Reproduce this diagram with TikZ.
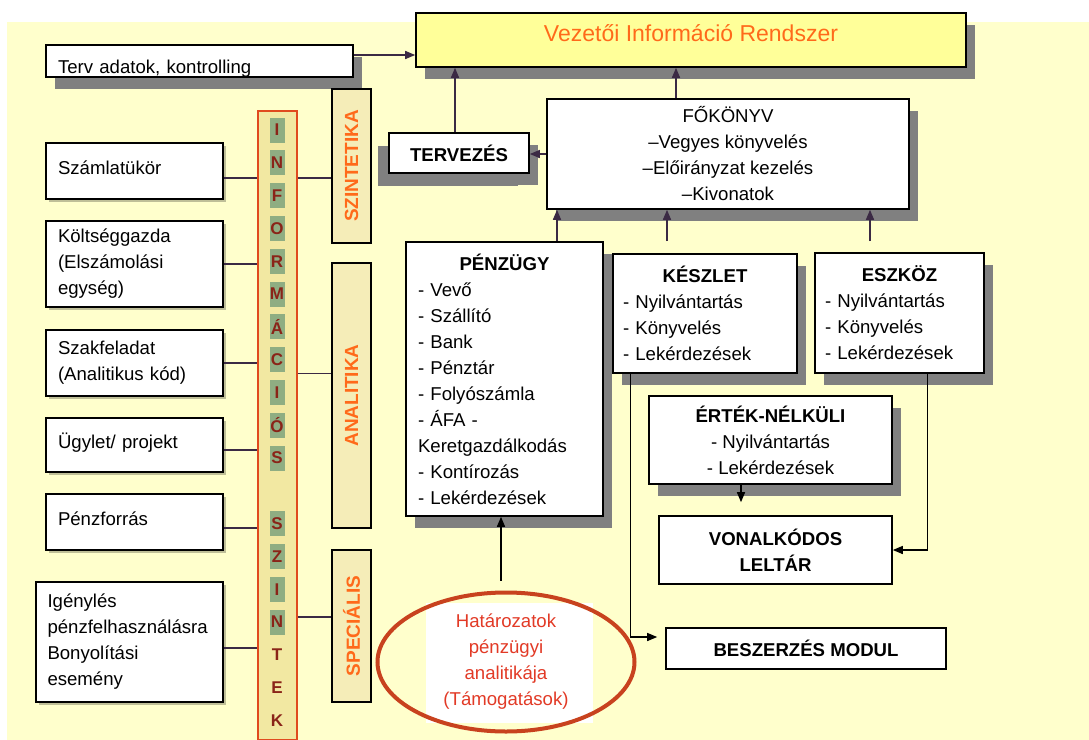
\documentclass[tikz,border=0pt]{standalone}
\usepackage{fontspec}
\setmainfont{Liberation Sans}
\usetikzlibrary{arrows.meta,shadows,shapes.geometric}

\definecolor{bgyellow}{HTML}{FFFFCC}
\definecolor{viryellow}{HTML}{FFFF99}
\definecolor{barfill}{HTML}{F5EDB8}
\definecolor{infofill}{HTML}{F2E8A2}
\definecolor{infored}{HTML}{E04A1E}
\definecolor{lettgreen}{HTML}{8FAD82}
\definecolor{lettred}{HTML}{8A2418}
\definecolor{orangetxt}{HTML}{FF6A1A}
\definecolor{ovalred}{HTML}{C8421E}
\definecolor{ovaltxt}{HTML}{E23A26}
\definecolor{lnkcol}{HTML}{3B2A44}
\definecolor{shadowgray}{HTML}{808080}

\begin{document}
\begin{tikzpicture}[
    x=0.5pt, y=-0.5pt,
    every node/.style={font=\fontsize{9.3}{13}\selectfont},
    box/.style={rectangle, draw=black, line width=0.8pt, fill=white, inner sep=0pt},
    shbox/.style={box, drop shadow={shadow xshift=4.5pt, shadow yshift=-6pt, fill=shadowgray, opacity=1}},
    lbox/.style={box, align=left, drop shadow={shadow xshift=1.5pt, shadow yshift=-1.5pt, fill=black, opacity=0.25}},
    bar/.style={rectangle, draw=black, line width=0.8pt, fill=barfill, minimum width=19.5pt, inner sep=0pt},
    bartxt/.style={rotate=90, font=\fontsize{9.5}{11}\selectfont\bfseries, text=orangetxt},
    letr/.style={rectangle, inner sep=0pt, minimum width=7.5pt, minimum height=12.5pt, font=\fontsize{8.5}{10}\selectfont\bfseries, text=lettred},
    lnk/.style={draw=lnkcol, line width=0.7pt},
    arr/.style={lnk, -{Triangle[length=5pt,width=4pt]}}
]
% page and background
\useasboundingbox (0,0) rectangle (1089,740);
\fill[bgyellow] (7,22) rectangle (1089,740);

% top level
\node[shbox, fill=viryellow, minimum width=275pt, minimum height=27pt, text height=8.5pt, text depth=7.5pt,
      font=\fontsize{11.5}{13}\selectfont, text=orangetxt] (vir) at (691,40) {Vezetői Információ Rendszer};
\node[shbox, minimum width=153.5pt, minimum height=16pt, text width=141.5pt, text height=13pt, text depth=1pt, align=left] (terv) at (199.5,61) {Terv adatok, kontrolling};

% left column
\node[lbox, minimum width=88.5pt, minimum height=28pt, text width=76.5pt, text height=7pt, text depth=4pt] (szamla) at (134.5,171) {Számlatükör};
\node[lbox, minimum width=88.5pt, minimum height=43pt, text width=76.5pt] (koltseg) at (134.5,264) {Költséggazda\\(Elszámolási\\egység)};
\node[lbox, minimum width=88.5pt, minimum height=33pt, text width=76.5pt] (szak) at (134.5,363) {Szakfeladat\\(Analitikus kód)};
\node[lbox, minimum width=88.5pt, minimum height=27pt, text width=76.5pt, text height=7pt, text depth=4pt] (ugylet) at (134.5,445) {Ügylet/ projekt};
\node[lbox, minimum width=88.5pt, minimum height=28pt, text width=76.5pt, text height=7pt, text depth=4pt] (penzforras) at (134.5,522) {Pénzforrás};
\node[lbox, minimum width=93.5pt, minimum height=60pt, text width=82pt] (igenyles) at (129.5,642) {Igénylés\\pénzfelhasználásra\\Bonyolítási\\esemény};

% information levels bar
\node[rectangle, draw=infored, line width=0.8pt, fill=infofill, minimum width=19.5pt, minimum height=314.5pt, inner sep=0pt] (info) at (277.5,425.5) {};
\foreach \ch [count=\k from 0] in {I,N,F,O,R,M,Á,C,I,Ó,S}
  \node[letr, fill=lettgreen] (inf\k) at (277,{130+32.8*\k}) {\ch};
\foreach \ch [count=\k from 12] in {S,Z,I,N}
  \node[letr, fill=lettgreen] (szi\k) at (277,{130+32.8*\k}) {\ch};
\foreach \ch [count=\k from 16] in {T,E,K}
  \node[letr] (tek\k) at (277,{130+32.8*\k}) {\ch};

% level bars
\node[bar, minimum height=77pt, label={[bartxt]center:SZINTETIKA}] (szintetika) at (351.5,166) {};
\node[bar, minimum height=132.5pt, label={[bartxt]center:ANALITIKA}] (analitika) at (351.5,395.5) {};
\node[bar, minimum height=76pt, label={[bartxt]center:SPECIÁLIS}] (specialis) at (351.5,626) {};

% modules
\node[shbox, minimum width=70pt, minimum height=20pt, font=\fontsize{9.3}{13}\selectfont\bfseries,
      drop shadow={shadow xshift=-5.5pt, shadow yshift=-6.5pt, fill=shadowgray, opacity=1}] (tervezes) at (459,153) {TERVEZÉS};
\node[shbox, minimum width=181pt, minimum height=55pt, align=center] (fokonyv) at (728,154) {FŐKÖNYV\\–Vegyes könyvelés\\–Előirányzat kezelés\\–Kivonatok};
\node[shbox, minimum width=98.5pt, minimum height=137pt, text width=86.5pt, align=left] (penzugy) at (504.5,379)
  {\makebox[86.5pt]{\bfseries PÉNZÜGY}\\- Vevő\\- Szállító\\- Bank\\- Pénztár\\- Folyószámla\\- ÁFA -\\Keretgazdálkodás\\- Kontírozás\\- Lekérdezések};
\node[shbox, minimum width=92pt, minimum height=59.5pt, text width=82pt, align=left] (keszlet) at (705,313.5)
  {\makebox[82pt]{\bfseries KÉSZLET}\\- Nyilvántartás\\- Könyvelés\\- Lekérdezések};
\node[shbox, minimum width=84.5pt, minimum height=60pt, text width=74.5pt, align=left] (eszkoz) at (899.5,313)
  {\makebox[74.5pt]{\bfseries ESZKÖZ}\\- Nyilvántartás\\- Könyvelés\\- Lekérdezések};
\node[shbox, minimum width=121.5pt, minimum height=44pt, align=center] (ertek) at (770.5,440)
  {\textbf{ÉRTÉK-NÉLKÜLI}\\- Nyilvántartás\\- Lekérdezések};
\node[box, minimum width=116.5pt, minimum height=34pt, align=center, font=\fontsize{9.3}{13}\selectfont\bfseries] (vonal) at (775.5,550) {VONALKÓDOS\\LELTÁR};
\node[box, minimum width=140pt, minimum height=20.5pt, font=\fontsize{9.3}{13}\selectfont\bfseries] (beszerzes) at (806,648.5) {BESZERZÉS MODUL};

% decisions oval
\fill[white] (426,603) rectangle (593,723);
\node[ellipse, draw=ovalred, line width=2pt, minimum width=128.5pt, minimum height=69.5pt, inner sep=0pt,
      align=center, text=ovaltxt] (hatarozat) at (506,662) {Határozatok\\pénzügyi\\analitikája\\(Támogatások)};

% left side to info bar
\draw[lnk] ([yshift=-3.5pt]szamla.east) -- ([yshift=-3.5pt]szamla.east -| info.west);
\draw[lnk] (koltseg.east) -- (koltseg.east -| info.west);
\draw[lnk] (szak.east) -- (szak.east -| info.west);
\draw[lnk] ([yshift=-2.5pt]ugylet.east) -- ([yshift=-2.5pt]ugylet.east -| info.west);
\draw[lnk] ([yshift=-3pt]penzforras.east) -- ([yshift=-3pt]penzforras.east -| info.west);
\draw[lnk] ([yshift=-3pt]igenyles.east) -- ([yshift=-3pt]igenyles.east -| info.west);

% info bar to levels
\draw[lnk] ([yshift=-3.5pt]szamla.east -| info.east) -- ([yshift=-3.5pt]szamla.east -| szintetika.west);
\draw[lnk] ([yshift=11pt]analitika.west -| info.east) -- ([yshift=11pt]analitika.west);
\draw[lnk] ([yshift=4.5pt]specialis.west -| info.east) -- ([yshift=4.5pt]specialis.west);

% arrows up
\draw[arr] ([yshift=3pt]terv.east) -- ([yshift=3pt]terv.east -| vir.west);
\draw[arr] ([xshift=-2pt]tervezes.north) -- ([xshift=-2pt]tervezes.north |- vir.south);
\draw[arr] (fokonyv.west) -- (fokonyv.west -| tervezes.east);
\draw[arr] ([xshift=-26pt]fokonyv.north) -- ([xshift=-26pt]fokonyv.north |- vir.south);
\draw[arr] ([xshift=26.25pt]penzugy.north) -- ([xshift=26.25pt]penzugy.north |- fokonyv.south);
\draw[arr, shorten <=6pt] ([xshift=-19pt]keszlet.north) -- ([xshift=-19pt]keszlet.north |- fokonyv.south);
\draw[arr, shorten <=5.5pt] ([xshift=-14.75pt]eszkoz.north) -- ([xshift=-14.75pt]eszkoz.north |- fokonyv.south);

% arrows below
\draw[arr, draw=black, shorten <=5pt] ([xshift=-2.5pt]hatarozat.north) -- ([xshift=-2.5pt]hatarozat.north |- penzugy.south);
\draw[arr, draw=black, shorten >=6.5pt] ([xshift=-14.75pt]ertek.south) -- ([xshift=-14.75pt]ertek.south |- vonal.north);
\draw[arr, draw=black, shorten >=4pt] ([xshift=9pt]keszlet.south west) |- ([yshift=5.75pt]beszerzes.west);
\draw[arr, draw=black] ([xshift=56.5pt]eszkoz.south west) |- (vonal.east);
\end{tikzpicture}
\end{document}
